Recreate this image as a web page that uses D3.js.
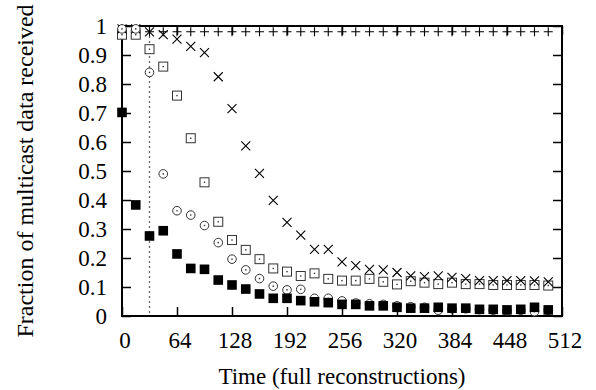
<!DOCTYPE html>
<html>
<head>
<meta charset="utf-8">
<script src="https://cdn.jsdelivr.net/npm/d3@7"></script>
<style>
  body { margin: 0; background: #fff; }
  svg text { font-family: "Liberation Serif", "Times New Roman", serif; fill: #000; }
</style>
</head>
<body>
<div id="chart"></div>
<script>
// sample times (full reconstructions)
const times = [0, 16, 32, 48, 64, 80, 96, 112, 128, 144, 160, 176, 192, 208, 224, 240,
               256, 272, 288, 304, 320, 336, 352, 368, 384, 400, 416, 432, 448, 464, 480, 496];

// series
const plusValues = [0.99, 0.99, 0.98, 0.98, 0.98, 0.98, 0.98, 0.98, 0.98, 0.98, 0.98, 0.98, 0.98, 0.98, 0.98, 0.98,
                    0.98, 0.98, 0.98, 0.98, 0.98, 0.98, 0.98, 0.98, 0.98, 0.98, 0.98, 0.98, 0.98, 0.98, 0.98, 0.98];
const crossValues = [0.99, 0.99, 0.98, 0.97, 0.955, 0.93, 0.908, 0.825, 0.715, 0.587, 0.492, 0.399, 0.323, 0.279, 0.23, 0.23,
                     0.187, 0.174, 0.161, 0.159, 0.15, 0.138, 0.136, 0.138, 0.133, 0.129, 0.122, 0.122, 0.122, 0.122, 0.121, 0.118];
const squareValues = [0.97, 0.97, 0.92, 0.86, 0.76, 0.613, 0.461, 0.325, 0.262, 0.228, 0.196, 0.164, 0.153, 0.138, 0.147, 0.128,
                      0.122, 0.122, 0.128, 0.118, 0.109, 0.12, 0.115, 0.11, 0.115, 0.11, 0.11, 0.107, 0.107, 0.107, 0.107, 0.105];
const circleValues = [0.99, 0.99, 0.84, 0.49, 0.363, 0.348, 0.312, 0.253, 0.196, 0.159, 0.129, 0.103, 0.09, 0.092, 0.061, 0.061,
                      0.052, 0.045, 0.042, 0.04, 0.035, 0.032, 0.03, 0.02, 0.025, 0.025, 0.022, 0.02, 0.018, 0.02, 0.015, 0.02];
const filledValues = [0.702, 0.383, 0.276, 0.294, 0.214, 0.164, 0.161, 0.124, 0.107, 0.093, 0.076, 0.061, 0.061, 0.053, 0.049, 0.046,
                      0.04, 0.04, 0.035, 0.035, 0.03, 0.027, 0.027, 0.03, 0.027, 0.027, 0.023, 0.023, 0.021, 0.023, 0.03, 0.021];

const xTicks = [0, 64, 128, 192, 256, 320, 384, 448, 512];
const yTicks = [0, 0.1, 0.2, 0.3, 0.4, 0.5, 0.6, 0.7, 0.8, 0.9, 1];
const markerTime = 32;

const width = 596, height = 390;
const margin = { top: 26, right: 34, bottom: 74, left: 122 };
const innerW = width - margin.left - margin.right;
const innerH = height - margin.top - margin.bottom;
const fontSize = 23;

const svg = d3.select('#chart').append('svg')
    .attr('width', width)
    .attr('height', height);

const chart = svg.append('g')
    .attr('transform', `translate(${margin.left},${margin.top})`);

const x = d3.scaleLinear().domain([0, 512]).range([0, innerW]);
const y = d3.scaleLinear().domain([0, 1]).range([innerH, 0]);

// dotted reference line
chart.append('line')
    .attr('x1', x(markerTime)).attr('x2', x(markerTime))
    .attr('y1', y(1)).attr('y2', y(0))
    .attr('stroke', '#666')
    .attr('stroke-width', 1.3)
    .attr('stroke-dasharray', '2,3');

// axes with inward ticks, mirrored
const tickLen = 9;
const fmtY = d => d === 0 || d === 1 ? String(d) : d3.format('.1f')(d);

const bottomAxis = chart.append('g').attr('transform', `translate(0,${innerH})`)
    .call(d3.axisBottom(x).tickValues(xTicks).tickSize(-tickLen).tickPadding(16));
const topAxis = chart.append('g')
    .call(d3.axisTop(x).tickValues(xTicks).tickSize(-tickLen).tickFormat(''));
const leftAxis = chart.append('g')
    .call(d3.axisLeft(y).tickValues(yTicks).tickSize(-tickLen).tickPadding(15).tickFormat(fmtY));
const rightAxis = chart.append('g').attr('transform', `translate(${innerW},0)`)
    .call(d3.axisRight(y).tickValues(yTicks).tickSize(-tickLen).tickFormat(''));

[bottomAxis, topAxis, leftAxis, rightAxis].forEach(g => {
    g.attr('font-family', null);
    g.select('.domain').remove();
    g.selectAll('.tick line').attr('stroke', '#000').attr('stroke-width', 1.5);
    g.selectAll('.tick text').attr('font-size', fontSize);
});
bottomAxis.selectAll('.tick text').attr('dx', 2.5);

chart.append('rect')
    .attr('width', innerW).attr('height', innerH)
    .attr('fill', 'none').attr('stroke', '#000').attr('stroke-width', 2);

// marker paths centred on 0,0
const plusPath = 'M-4.5,0H4.5M0,-4.5V4.5';
const crossPath = 'M-4.5,-4.5L4.5,4.5M-4.5,4.5L4.5,-4.5';

function drawSeries(values, cls, draw) {
    const g = chart.selectAll('.' + cls)
        .data(times.map((t, i) => ({ t, v: values[i] })))
        .join('g')
        .attr('class', cls)
        .attr('transform', d => `translate(${x(d.t)},${y(d.v)})`);
    draw(g);
}

drawSeries(plusValues, 'plus', g => g.append('path')
    .attr('d', plusPath).attr('stroke', '#000').attr('stroke-width', 1.1).attr('fill', 'none'));

drawSeries(squareValues, 'sq', g => {
    g.append('rect').attr('x', -4.5).attr('y', -4.5).attr('width', 9).attr('height', 9)
        .attr('fill', '#fff').attr('stroke', '#333').attr('stroke-width', 1);
    g.append('rect').attr('x', -0.7).attr('y', -0.7).attr('width', 1.4).attr('height', 1.4).attr('fill', '#333');
});

drawSeries(crossValues, 'cross', g => g.append('path')
    .attr('d', crossPath).attr('stroke', '#000').attr('stroke-width', 1.1).attr('fill', 'none'));

drawSeries(circleValues, 'circ', g => {
    g.append('circle').attr('r', 4.3)
        .attr('fill', '#fff').attr('stroke', '#333').attr('stroke-width', 1);
    g.append('circle').attr('r', 0.8).attr('fill', '#333');
});

drawSeries(filledValues, 'filled', g => g.append('rect')
    .attr('x', -4.8).attr('y', -4.8).attr('width', 9.6).attr('height', 9.6).attr('fill', '#000'));

// axis titles
svg.append('text')
    .attr('x', margin.left + innerW / 2)
    .attr('y', 384)
    .attr('text-anchor', 'middle')
    .attr('font-size', fontSize)
    .text('Time (full reconstructions)');

svg.append('text')
    .attr('transform', `translate(33,171) rotate(-90)`)
    .attr('text-anchor', 'middle')
    .attr('font-size', 24)
    .text('Fraction of multicast data received');
</script>
</body>
</html>
